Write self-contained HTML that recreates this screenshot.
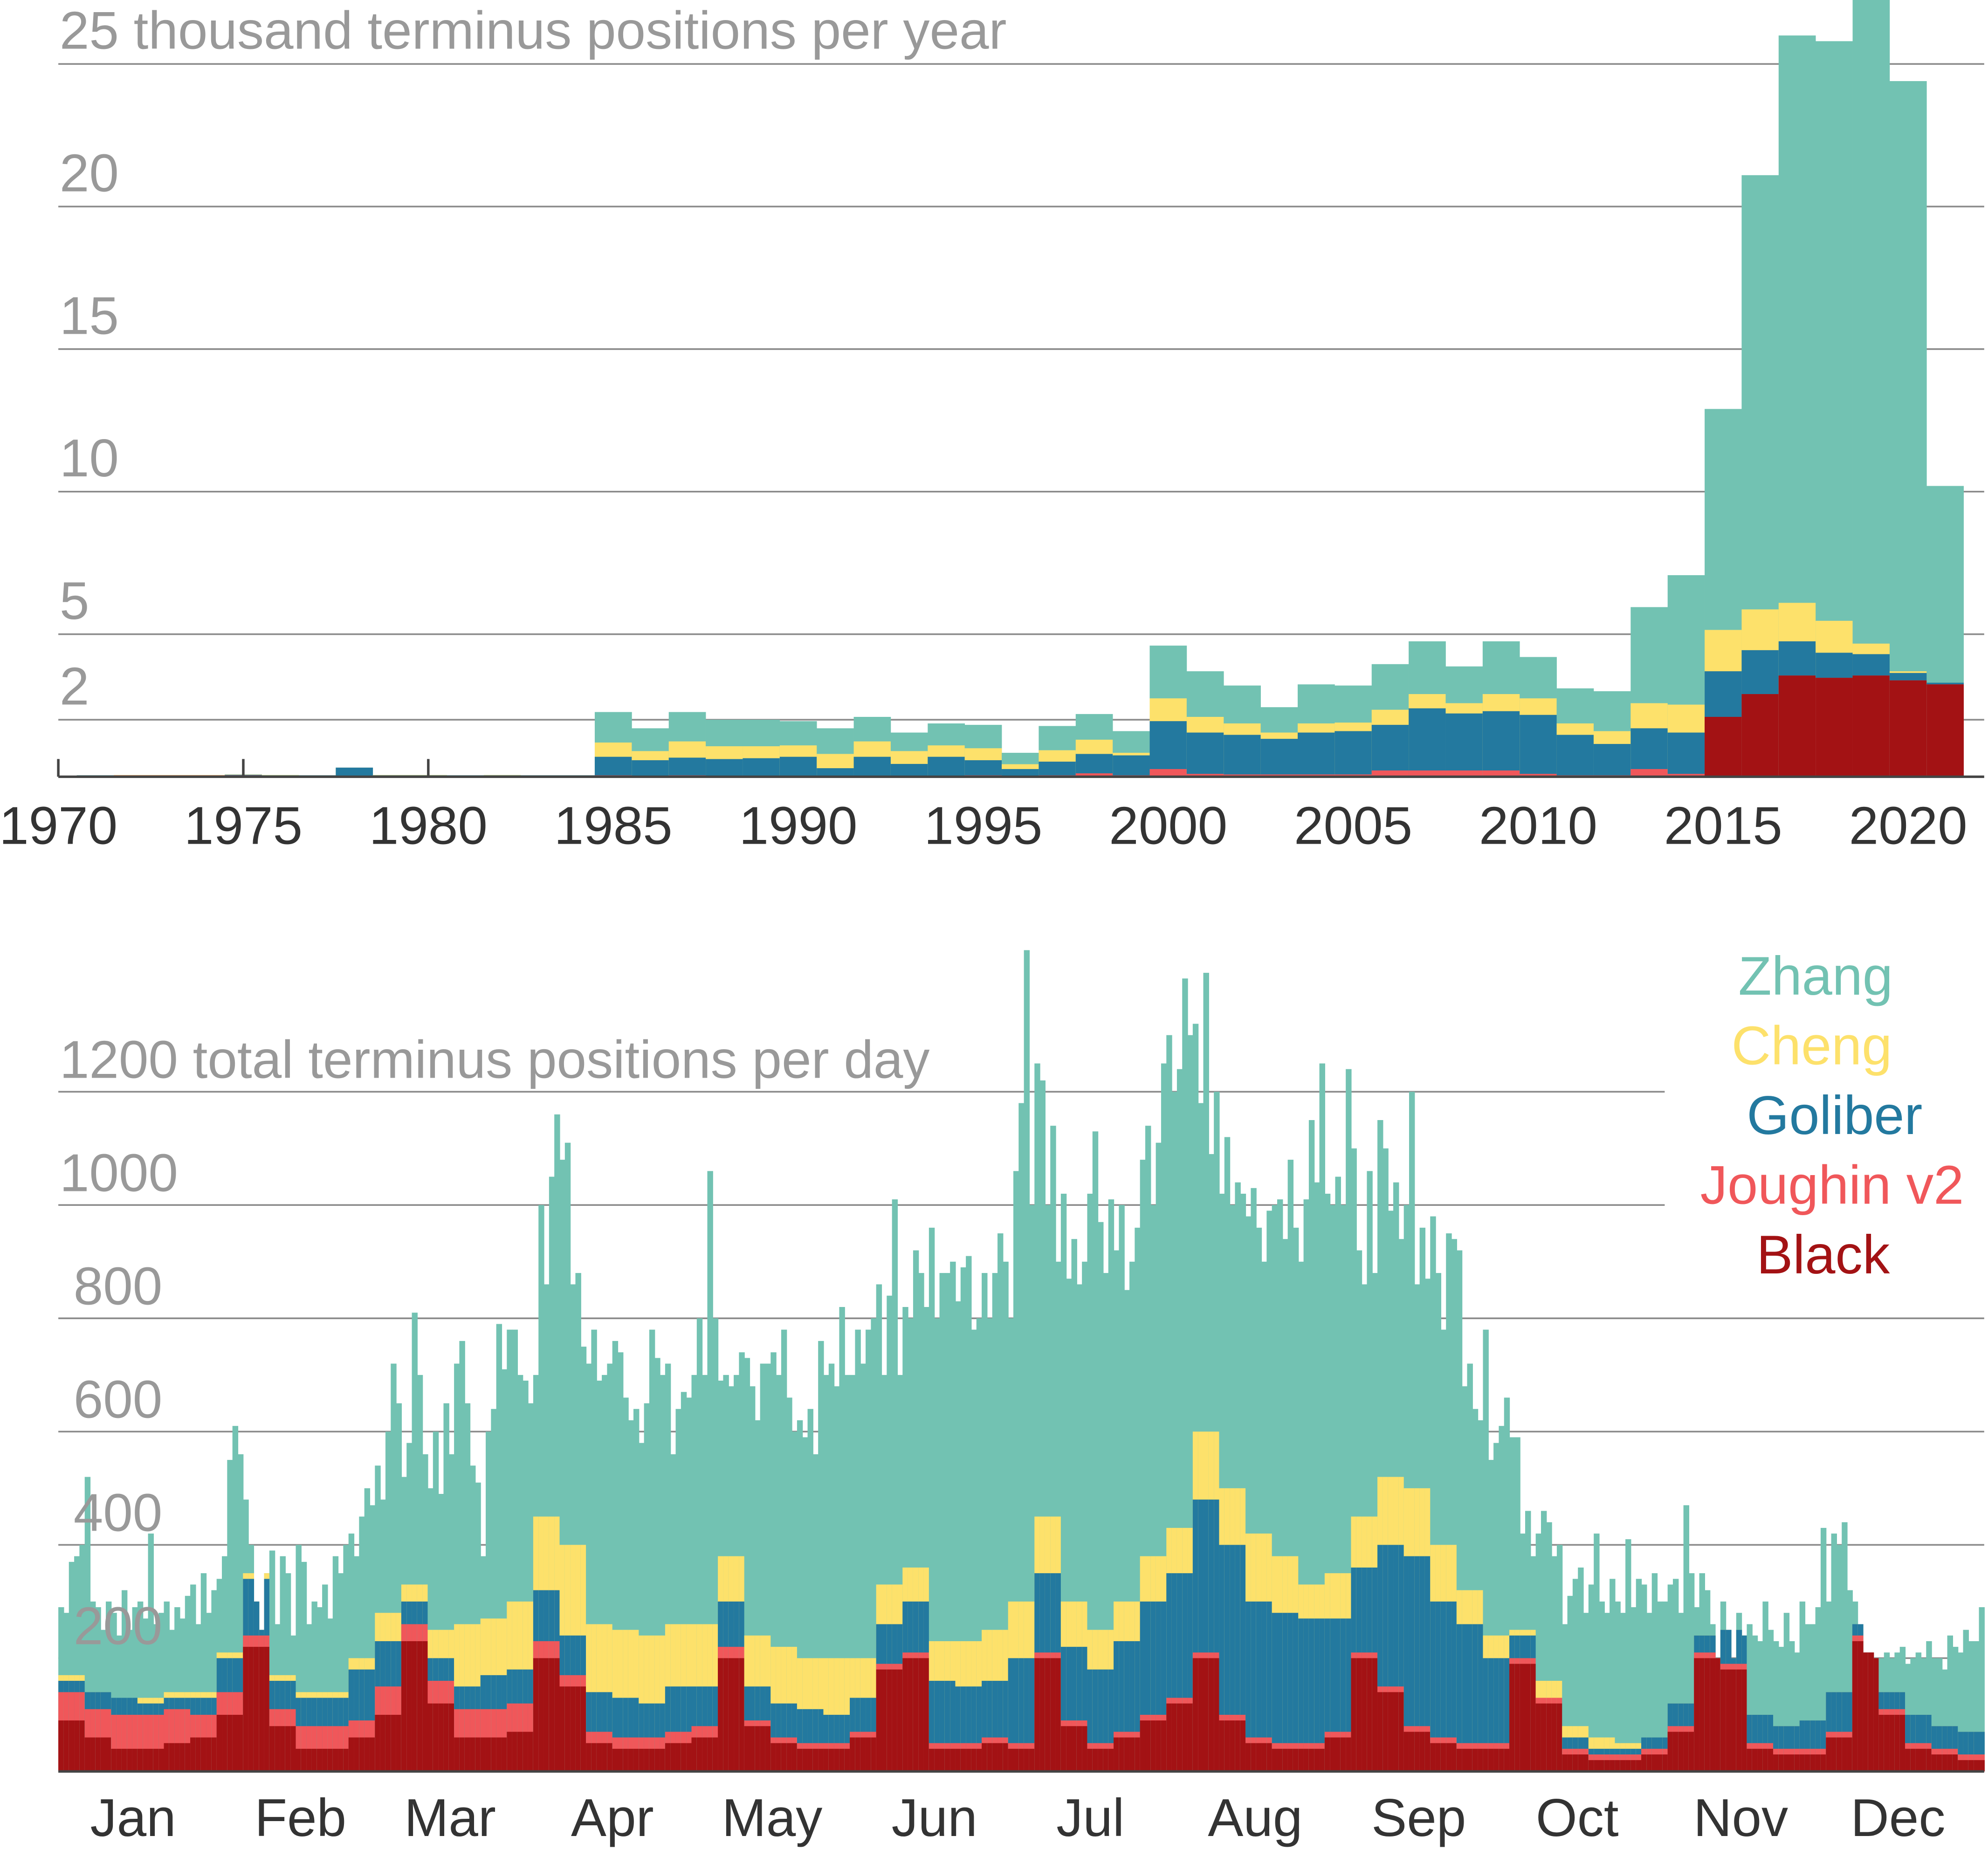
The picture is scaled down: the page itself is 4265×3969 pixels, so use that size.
<!DOCTYPE html>
<html><head><meta charset="utf-8"><style>
html,body{margin:0;padding:0;background:#fff;}
svg{display:block;}
text{font-family:"Liberation Sans",sans-serif;}
</style></head><body>
<svg id="chart" width="4265" height="3969" viewBox="0 0 1568 1460" preserveAspectRatio="none" xmlns="http://www.w3.org/2000/svg">
<g id="topchart"></g>
<g id="bottomchart"></g>
</svg>
<script>
// ---------- Yearly data (thousands, cumulative tops) ----------
const years=[1971,1972,1973,1974,1975,1976,1977,1978,1979,1980,1981,1982,1983,1984,1985,1986,1987,1988,1989,1990,1991,1992,1993,1994,1995,1996,1997,1998,1999,2000,2001,2002,2003,2004,2005,2006,2007,2008,2009,2010,2011,2012,2013,2014,2015,2016,2017,2018,2019,2020,2021];
const yBlack=[0,0,0,0,0,0,0,0,0,0,0,0,0,0,0,0,0,0,0,0,0,0,0,0,0,0,0,0,0,0,0,0,0,0,0,0,0,0,0,0,0,0,0,0,2.1,2.9,3.55,3.47,3.55,3.38,3.24];
const yJoughin=[0.03,0.05,0.05,0.05,0.05,0.03,0.03,0.03,0.03,0.03,0.03,0.03,0.03,0.03,0.05,0.03,0.05,0.03,0.03,0.03,0.03,0.03,0.03,0.03,0.05,0.03,0.05,0.12,0.05,0.27,0.1,0.08,0.08,0.08,0.08,0.22,0.22,0.22,0.22,0.1,0.05,0.05,0.27,0.1,2.1,2.9,3.55,3.47,3.55,3.38,3.24];
const yGoliber=[0.05,0.05,0.05,0.05,0.07,0.05,0.05,0.32,0.05,0.05,0.05,0.05,0.05,0.05,0.7,0.58,0.67,0.62,0.65,0.7,0.3,0.7,0.45,0.7,0.58,0.27,0.53,0.8,0.75,1.95,1.55,1.47,1.33,1.55,1.6,1.82,2.4,2.22,2.3,2.17,1.47,1.15,1.7,1.55,3.7,4.44,4.75,4.35,4.3,3.64,3.3];
const yCheng=[0.05,0.06,0.06,0.06,0.08,0.06,0.05,0.32,0.06,0.06,0.05,0.06,0.05,0.05,1.2,0.9,1.24,1.07,1.07,1.1,0.8,1.24,0.9,1.1,1.0,0.44,0.93,1.3,0.84,2.75,2.1,1.87,1.55,1.87,1.9,2.35,2.9,2.58,2.9,2.75,1.87,1.6,2.58,2.53,5.15,5.87,6.1,5.47,4.67,3.7,3.3];
const yZhang=[0.05,0.06,0.06,0.06,0.08,0.06,0.05,0.32,0.06,0.06,0.05,0.06,0.05,0.05,2.27,1.7,2.27,2.0,2.0,1.95,1.7,2.1,1.55,1.87,1.82,0.84,1.78,2.2,1.6,4.6,3.7,3.2,2.44,3.24,3.2,3.95,4.75,3.87,4.75,4.2,3.1,3.0,5.95,7.07,12.9,21.1,26.0,25.8,27.3,24.4,10.2];
const yTicks=[2,5,10,15,20,25];
const yTickLabels=["2","5","10","15","20","25 thousand terminus positions per year"];
const xYearTicks=[1970,1975,1980,1985,1990,1995,2000,2005,2010,2015,2020];

// ---------- Daily data ----------
const dayTotal=[290,280,370,380,400,520,300,290,250,300,280,240,320,250,290,300,270,420,260,280,300,250,290,270,310,330,260,350,280,320,340,
380,550,610,560,480,400,300,250,350,390,260,380,350,240,400,370,260,300,290,330,270,380,350,400,420,380,450,500,
470,540,480,600,720,650,520,580,810,700,560,500,600,490,650,560,720,760,650,540,510,380,600,640,790,710,780,780,700,690,650,
700,1000,860,1050,1160,1080,1110,860,880,750,720,780,690,700,720,760,740,660,620,640,580,650,780,730,700,720,560,640,670,660,
700,800,700,1060,800,690,700,680,700,740,730,680,620,720,720,740,700,780,660,600,620,590,640,560,760,700,720,680,820,700,700,
780,720,780,800,860,700,840,1010,700,820,800,920,880,820,960,800,880,880,900,830,890,910,780,800,880,800,880,950,900,800,
1060,1180,1450,1000,1250,1220,1000,1140,900,1020,870,940,860,900,1020,1130,970,880,1010,920,1000,850,900,960,1080,1140,1000,1110,1250,1300,1200,
1240,1400,1300,1320,1180,1410,1090,1200,1020,1120,1000,1040,1020,980,1030,960,900,990,1000,1010,940,1080,960,900,1010,1150,1040,1250,1020,1000,1050,
1000,1240,1100,920,860,1060,880,1150,1100,990,1040,940,1000,1200,860,960,870,980,880,780,950,940,920,680,720,640,620,780,550,580,
610,660,590,590,420,460,380,420,460,440,380,400,260,310,340,360,280,330,420,300,280,340,300,280,410,290,340,330,280,350,300,
300,330,340,280,470,350,290,350,320,260,200,300,250,200,280,240,260,240,230,300,250,230,220,280,230,210,300,260,260,290,
430,300,420,400,440,320,300,260,210,210,200,200,210,200,210,220,190,200,210,200,230,200,200,180,240,220,210,250,230,230,290];
// 5-day block cumulative tops
const blkBlack=[90,60,40,40,50,60,100,220,80,40,40,60,100,230,120,60,60,70,200,150,50,40,40,50,60,200,80,50,40,40,60,180,200,40,40,50,40,200,80,40,60,90,120,200,90,50,40,40,60,200,140,70,50,40,40,190,120,30,20,20,30,70,200,180,40,30,30,60,230,100,40,30,20];
const blkJoughin=[140,110,100,100,110,100,140,240,110,80,80,90,150,260,160,110,110,120,230,170,70,60,60,70,80,220,90,60,50,50,70,190,210,50,50,60,50,210,90,50,70,100,130,210,100,60,50,50,70,210,150,80,60,50,50,200,130,40,30,30,40,80,210,190,50,40,40,70,240,110,50,40,30];
const blkGoliber=[160,140,130,120,130,130,200,340,160,130,130,180,230,300,200,150,170,180,320,240,140,130,120,150,150,300,150,120,110,100,130,260,300,160,150,160,200,350,220,180,230,300,350,480,400,300,280,270,270,360,400,380,300,260,200,240,120,60,40,40,60,120,240,250,100,80,90,140,260,140,100,80,70];
const blkCheng=[170,140,130,130,140,140,210,350,170,140,140,200,280,330,250,260,270,300,450,400,260,250,240,260,260,380,240,220,200,200,200,330,360,230,230,250,300,450,300,250,300,380,430,600,500,420,380,330,350,450,520,500,400,320,240,250,160,80,60,50,60,120,240,250,100,80,90,140,260,140,100,80,70];
const yDayTicks=[200,400,600,800,1000,1200];
const yDayLabels=["200","400","600","800","1000","1200 total terminus positions per day"];
const months=["Jan","Feb","Mar","Apr","May","Jun","Jul","Aug","Sep","Oct","Nov","Dec"];
const monthLabelX=[105,237,355,483,609,737,860,990,1119,1244,1373,1497];
const seriesNames=["Zhang","Cheng","Goliber","Joughin v2","Black"];
const COL={Zhang:"#72c2b2",Cheng:"#fde16b",Goliber:"#23799f","Joughin v2":"#f0575a",Black:"#a31214"};

const NS="http://www.w3.org/2000/svg";
function mk(tag,attrs,parent){const e=document.createElementNS(NS,tag);for(const k in attrs)e.setAttribute(k,attrs[k]);parent.appendChild(e);return e;}

// ---------- Top chart ----------
const topG=document.getElementById('topchart');
const tBase=613, tPer=22.5;
const xY=y=>46+(y-1970)*29.18;
const yT=v=>tBase-v*tPer;
yTicks.forEach((t,i)=>{
  const l=mk('line',{x1:46,x2:1565,y1:yT(t),y2:yT(t),stroke:'#8a8a8a','stroke-width':1.3},topG);
  
  
  const tx=mk('text',{x:47,y:yT(t)-12,'font-size':42,fill:'#999'},topG);
  tx.textContent=yTickLabels[i];
  
  
});
const layersTop=[["Zhang",yZhang],["Cheng",yCheng],["Goliber",yGoliber],["Joughin v2",yJoughin],["Black",yBlack]];
years.forEach((yr,i)=>{
  layersTop.forEach(([nm,arr])=>{
    const v=arr[i]; if(v<=0)return;
    const r=mk('rect',{x:xY(yr)-14.6,width:29.3,y:Math.max(0,yT(v)),height:tBase-Math.max(0,yT(v)),fill:COL[nm]},topG);
    
    
  });
});
const ax=mk('line',{x1:46,x2:1565,y1:tBase,y2:tBase,stroke:'#444','stroke-width':2},topG);


xYearTicks.forEach(yr=>{
  if(yr<=1980){const tk=mk('line',{x1:xY(yr),x2:xY(yr),y1:tBase,y2:tBase-14,stroke:'#444','stroke-width':2},topG);
    
    }
  const tx=mk('text',{x:xY(yr),y:666,'font-size':42,fill:'#333','text-anchor':'middle'},topG);
  tx.textContent=yr;
  
  
});

// ---------- Bottom chart ----------
const botG=document.getElementById('bottomchart');
const bBase=1398, bPer=0.447;
const nDays=dayTotal.length, dw=1519/nDays;
const xD=i=>46+i*dw;
const yB=v=>bBase-v*bPer;
yDayTicks.forEach((t,i)=>{
  const x2=t>=1000?1313:1565;
  const l=mk('line',{x1:46,x2:x2,y1:yB(t),y2:yB(t),stroke:'#8a8a8a','stroke-width':1.3},botG);
  
  
});
for(let i=0;i<nDays;i++){
  const b=Math.min(Math.floor(i/5),blkBlack.length-1);
  const tot=dayTotal[i];
  const vals=[["Zhang",tot],["Cheng",Math.min(blkCheng[b],tot)],["Goliber",Math.min(blkGoliber[b],tot)],["Joughin v2",Math.min(blkJoughin[b],tot)],["Black",Math.min(blkBlack[b],tot)]];
  vals.forEach(([nm,v])=>{
    const r=mk('rect',{x:xD(i),width:dw+0.4,y:yB(v),height:bBase-yB(v),fill:COL[nm]},botG);
    
    
  });
}
yDayTicks.forEach((t,i)=>{
  const tx=mk('text',{x:t>=1000?47:58,y:yB(t)-11,'font-size':42,fill:'#999'},botG);
  tx.textContent=yDayLabels[i];
  
  
});
const bax=mk('line',{x1:46,x2:1565,y1:bBase,y2:bBase,stroke:'#444','stroke-width':2},botG);


months.forEach((m,i)=>{
  const tx=mk('text',{x:monthLabelX[i],y:1449,'font-size':42,fill:'#333','text-anchor':'middle'},botG);
  tx.textContent=m;
  
  
});
const legY=[785,840,895,950,1005], legX=[1432,1429,1447,1445,1438];
seriesNames.forEach((s,i)=>{
  const tx=mk('text',{x:legX[i],y:legY[i],'font-size':43,fill:COL[s],'text-anchor':'middle'},botG);
  tx.textContent=s;
  
  
});
</script>
</body></html>
